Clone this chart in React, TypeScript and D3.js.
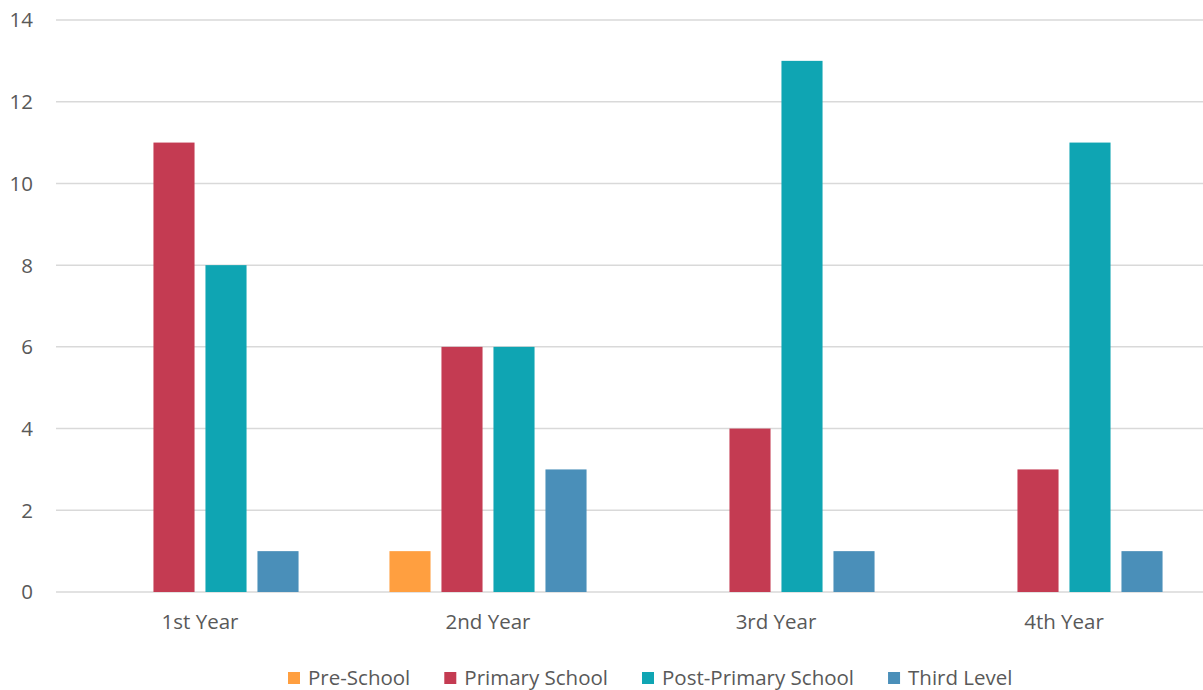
import React, { useEffect, useRef } from "react";
import * as d3 from "d3";

const categories = ["1st Year", "2nd Year", "3rd Year", "4th Year"];
const seriesNames = ["Pre-School", "Primary School", "Post-Primary School", "Third Level"];
const preSchool = [0, 1, 0, 0];
const primarySchool = [11, 6, 4, 3];
const postPrimarySchool = [8, 6, 13, 11];
const thirdLevel = [1, 3, 1, 1];
const yTicks = [0, 2, 4, 6, 8, 10, 12, 14];
const colors = ["#FF9F40", "#C43B52", "#0FA5B3", "#4A8FB9"];

const W = 1203;
const H = 690;
const FONT = "'Open Sans', Lato, sans-serif";
const FS = 20.5;

export default function App() {
  const ref = useRef<SVGSVGElement | null>(null);

  useEffect(() => {
    const svg = d3.select(ref.current);
    svg.selectAll("*").remove();

    const values = [preSchool, primarySchool, postPrimarySchool, thirdLevel];
    const x = d3.scaleBand<string>().domain(categories).range([56, 1208]).padding(0);
    const xi = d3
      .scaleBand<string>()
      .domain(seriesNames)
      .range([0, x.bandwidth()])
      .paddingInner(0.21)
      .paddingOuter(0.874);
    const y = d3.scaleLinear().domain([0, 14]).range([592, 20]);

    // grid lines
    svg
      .append("g")
      .selectAll("line")
      .data(yTicks)
      .join("line")
      .attr("x1", 56)
      .attr("x2", W)
      .attr("y1", (d) => y(d))
      .attr("y2", (d) => y(d))
      .attr("stroke", "#d9d9d9")
      .attr("stroke-width", 1.5);

    // y tick labels
    svg
      .append("g")
      .selectAll("text")
      .data(yTicks)
      .join("text")
      .attr("x", 33)
      .attr("y", (d) => y(d))
      .attr("dy", "0.36em")
      .attr("text-anchor", "end")
      .attr("font-family", FONT)
      .attr("font-size", FS)
      .attr("fill", "#595959")
      .text((d) => String(d));

    // bars
    seriesNames.forEach((name, si) => {
      svg
        .append("g")
        .selectAll("rect")
        .data(categories.map((c, ci) => ({ c, v: values[si][ci] })).filter((d) => d.v > 0))
        .join("rect")
        .attr("x", (d) => (x(d.c) as number) + (xi(name) as number))
        .attr("y", (d) => y(d.v))
        .attr("width", xi.bandwidth())
        .attr("height", (d) => y(0) - y(d.v))
        .attr("fill", colors[si]);
    });

    // x labels
    svg
      .append("g")
      .selectAll("text")
      .data(categories)
      .join("text")
      .attr("x", (d) => (x(d) as number) + x.bandwidth() / 2)
      .attr("y", 629)
      .attr("text-anchor", "middle")
      .attr("font-family", FONT)
      .attr("font-size", FS)
      .attr("fill", "#595959")
      .text((d) => d);

    // legend
    const legend = svg.append("g");
    let cx = 288;
    seriesNames.forEach((name, si) => {
      legend
        .append("rect")
        .attr("x", cx)
        .attr("y", 672)
        .attr("width", 12)
        .attr("height", 12)
        .attr("fill", colors[si]);
      const t = legend
        .append("text")
        .attr("x", cx + 20)
        .attr("y", 685)
        .attr("font-family", FONT)
        .attr("font-size", FS)
        .attr("fill", "#595959")
        .text(name);
      const w = (t.node() as SVGTextElement).getComputedTextLength();
      cx += 20 + w + 34;
    });
  }, []);

  return (
    <svg
      ref={ref}
      width={W}
      height={H}
      style={{ position: "absolute", left: 0, top: 0, background: "#fff" }}
    />
  );
}
